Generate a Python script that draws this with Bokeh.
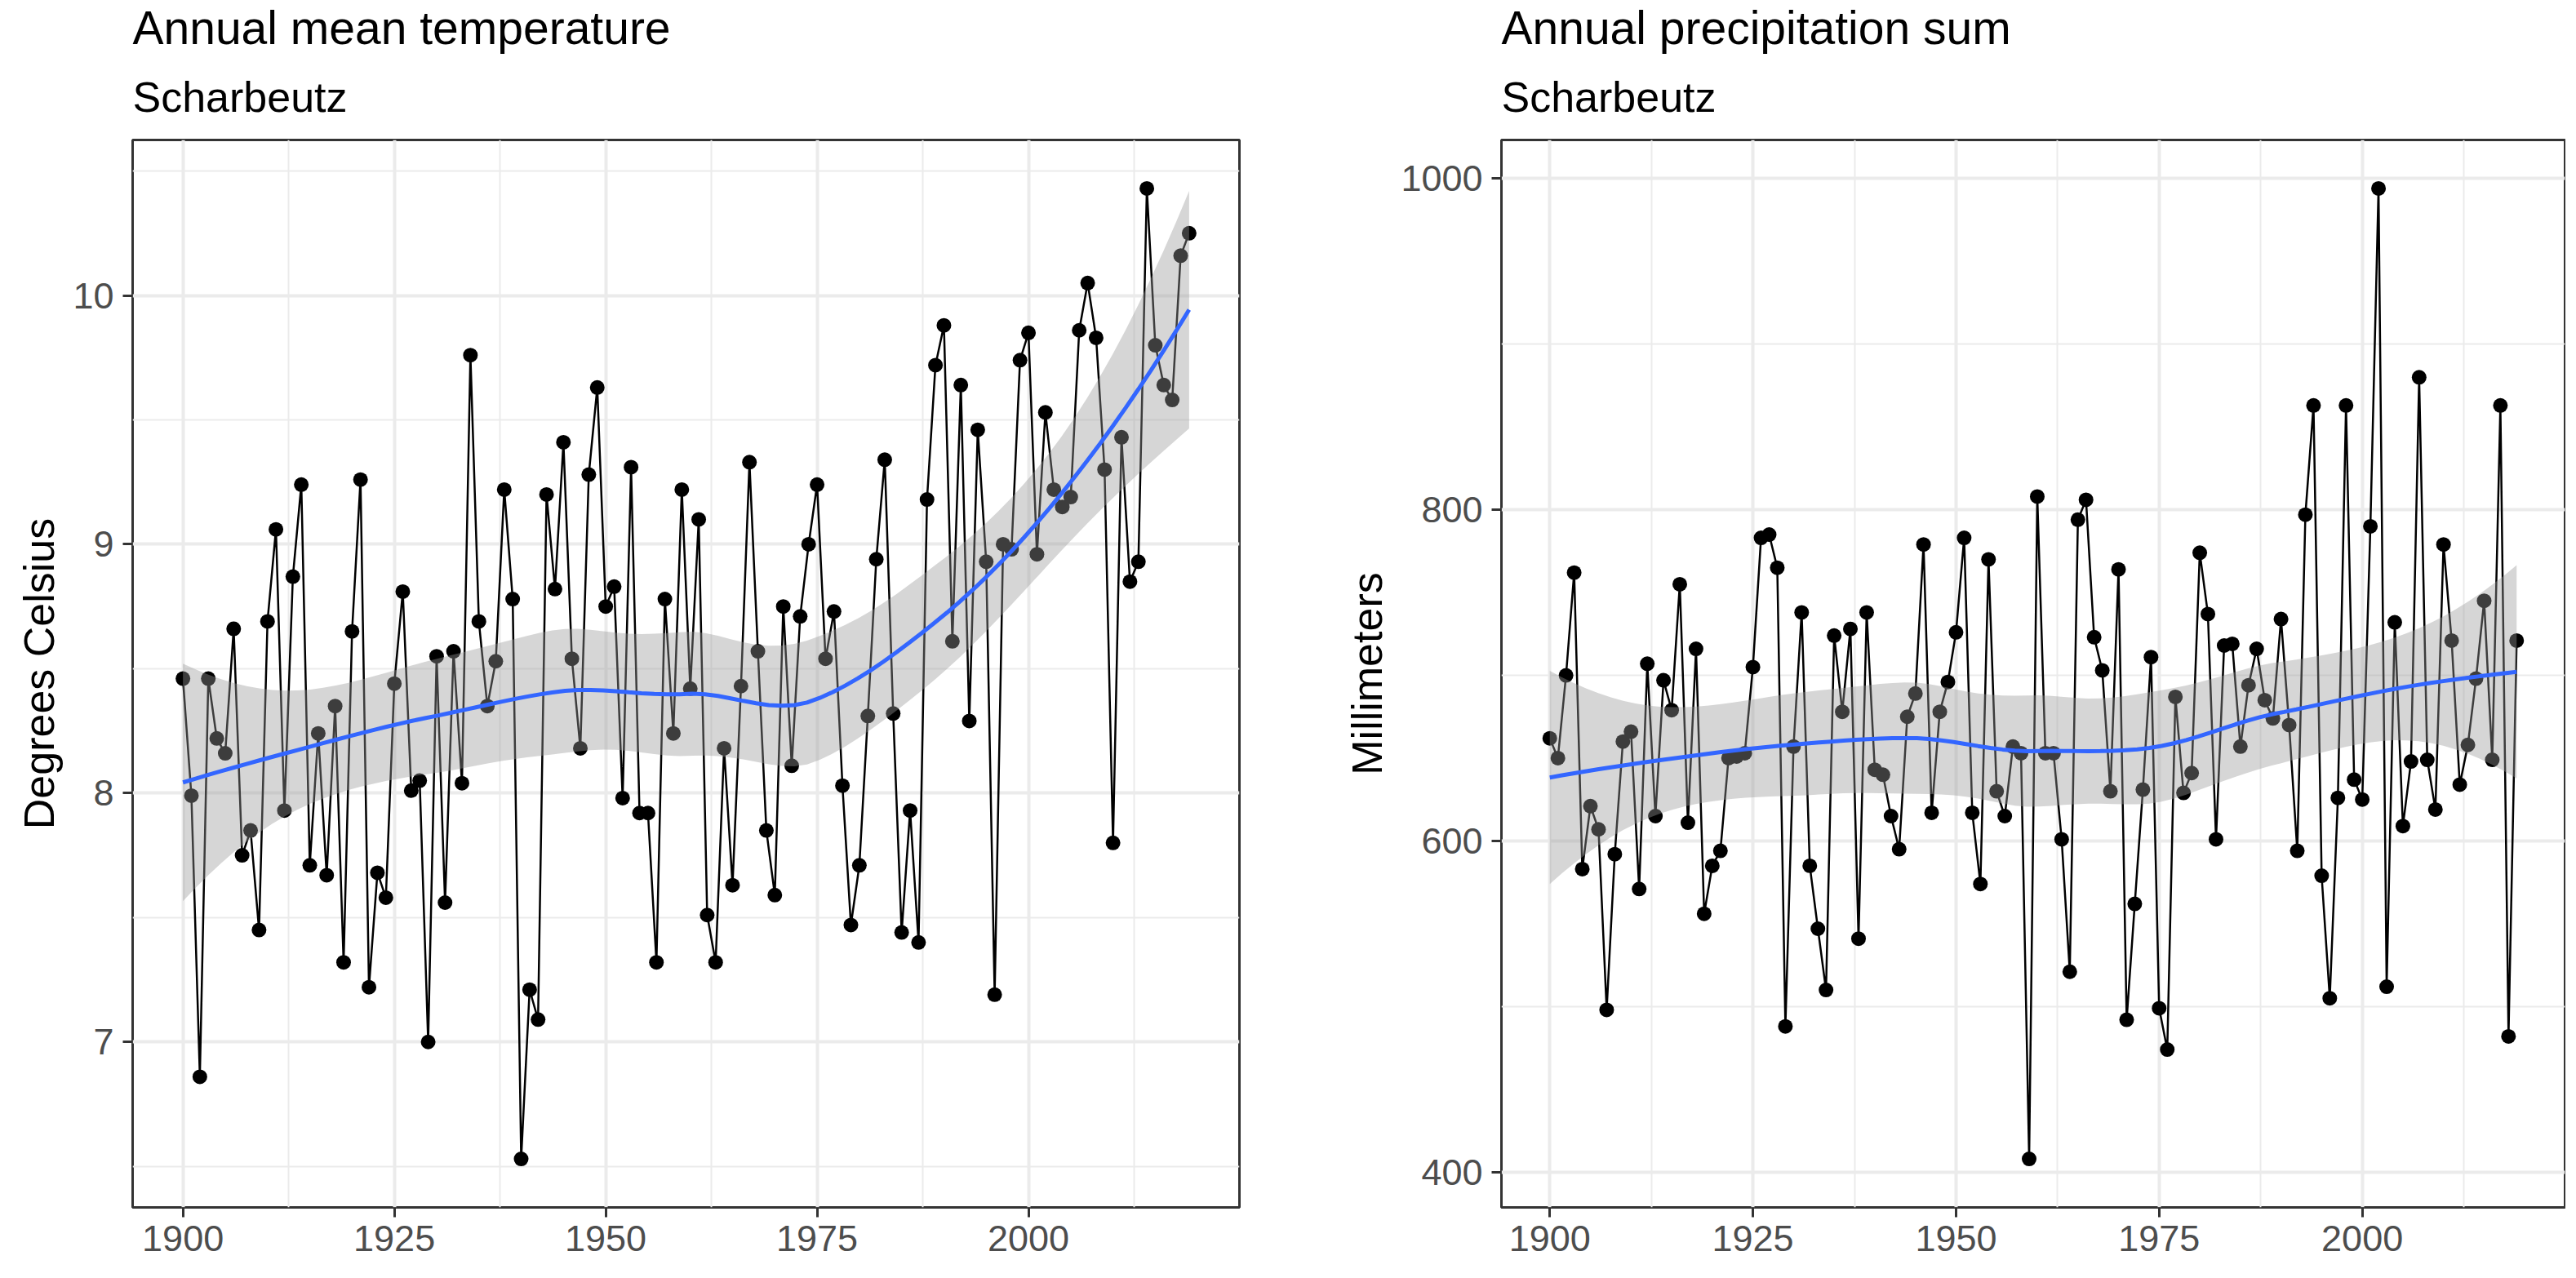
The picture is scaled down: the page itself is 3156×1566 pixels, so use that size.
import numpy as np
from bokeh.plotting import figure
from bokeh.layouts import row
from bokeh.models import Range1d, FixedTicker, Title
from bokeh.embed import file_html
from bokeh.resources import INLINE

# ---------------- data ----------------
years = list(range(1900, 2020))

temperature = [
    8.46, 7.99, 6.86, 8.46, 8.22, 8.16, 8.66, 7.75, 7.85, 7.45,
    8.69, 9.06, 7.93, 8.87, 9.24, 7.71, 8.24, 7.67, 8.35, 7.32,
    8.65, 9.26, 7.22, 7.68, 7.58, 8.44, 8.81, 8.01, 8.05, 7.00,
    8.55, 7.56, 8.57, 8.04, 9.76, 8.69, 8.35, 8.53, 9.22, 8.78,
    6.53, 7.21, 7.09, 9.20, 8.82, 9.41, 8.54, 8.18, 9.28, 9.63,
    8.75, 8.83, 7.98, 9.31, 7.92, 7.92, 7.32, 8.78, 8.24, 9.22,
    8.42, 9.10, 7.51, 7.32, 8.18, 7.63, 8.43, 9.33, 8.57, 7.85,
    7.59, 8.75, 8.11, 8.71, 9.00, 9.24, 8.54, 8.73, 8.03, 7.47,
    7.71, 8.31, 8.94, 9.34, 8.32, 7.44, 7.93, 7.40, 9.18, 9.72,
    9.88, 8.61, 9.64, 8.29, 9.46, 8.93, 7.19, 9.00, 8.98, 9.74,
    9.85, 8.96, 9.53, 9.22, 9.15, 9.19, 9.86, 10.05, 9.83, 9.30,
    7.80, 9.43, 8.85, 8.93, 10.43, 9.80, 9.64, 9.58, 10.16, 10.25,
]

precipitation = [
    662, 650, 700, 762, 583, 621, 607, 498, 592, 660,
    666, 571, 707, 615, 697, 679, 755, 611, 716, 556,
    585, 594, 650, 651, 653, 705, 783, 785, 765, 488,
    657, 738, 585, 547, 510, 724, 678, 728, 541, 738,
    643, 640, 615, 595, 675, 689, 779, 617, 678, 696,
    726, 783, 617, 574, 770, 630, 615, 657, 653, 408,
    808, 653, 653, 601, 521, 794, 806, 723, 703, 630,
    764, 492, 562, 631, 711, 499, 474, 687, 629, 641,
    774, 737, 601, 718, 719, 657, 694, 716, 685, 674,
    734, 670, 594, 797, 863, 579, 505, 626, 863, 637,
    625, 790, 994, 512, 732, 609, 648, 880, 649, 619,
    779, 721, 634, 658, 698, 745, 649, 863, 482, 721,
]

x_ticks = [1900, 1925, 1950, 1975, 2000]
x_minor = [1912.5, 1937.5, 1962.5, 1987.5, 2012.5]
t_ticks = [7, 8, 9, 10]
t_minor = [6.5, 7.5, 8.5, 9.5, 10.5]
p_ticks = [400, 600, 800, 1000]
p_minor = [500, 700, 900]

FONT = "Liberation Sans"


# ------- loess (span 0.75, degree 2, kd-tree vertices + cubic Hermite) -------
def loess_fit(x, y, xnew, span=0.75, cell=0.2):
    x = np.asarray(x, float)
    y = np.asarray(y, float)
    xnew = np.asarray(xnew, float)
    n = len(x)
    q = int(np.floor(n * span))
    fc = int(np.floor(n * span * cell))
    xs = np.sort(x)

    def local_ops(x0):
        d = np.abs(x - x0)
        h = np.sort(d)[q - 1]
        w = np.clip(1 - (d / h) ** 3, 0, None) ** 3
        u = (x - x0) / h
        X = np.vstack([np.ones(n), u, u ** 2]).T
        XtW = X.T * w
        op = np.linalg.solve(XtW @ X, XtW)
        return op[0], op[1] / h

    lo, hi = xs[0], xs[-1]
    mu = 0.005 * max(hi - lo, 1e-10)
    verts = [lo - mu, hi + mu]

    def split(l, u):
        if u - l + 1 <= fc:
            return
        m = (l + u) // 2
        verts.append((xs[m] + xs[m + 1]) / 2)
        split(l, m)
        split(m + 1, u)

    split(0, n - 1)
    verts = np.array(sorted(verts))
    ops = [local_ops(v) for v in verts]

    def interp_rows(pts):
        rows = []
        for p in pts:
            i = int(np.clip(np.searchsorted(verts, p) - 1, 0, len(verts) - 2))
            a, b = verts[i], verts[i + 1]
            wdt = b - a
            t = (p - a) / wdt
            h00 = 2 * t ** 3 - 3 * t ** 2 + 1
            h10 = t ** 3 - 2 * t ** 2 + t
            h01 = -2 * t ** 3 + 3 * t ** 2
            h11 = t ** 3 - t ** 2
            rows.append(h00 * ops[i][0] + h10 * wdt * ops[i][1]
                        + h01 * ops[i + 1][0] + h11 * wdt * ops[i + 1][1])
        return np.array(rows)

    L = interp_rows(x)
    Ln = interp_rows(xnew)
    res = y - L @ y
    IL = np.eye(n) - L
    M = IL.T @ IL
    one = np.trace(M)
    two = np.trace(M @ M)
    s = np.sqrt(np.sum(res ** 2) / one)
    df = one ** 2 / two
    z = 1.959963985
    tq = (z + (z ** 3 + z) / (4 * df)
          + (5 * z ** 5 + 16 * z ** 3 + 3 * z) / (96 * df ** 2)
          + (3 * z ** 7 + 19 * z ** 5 + 17 * z ** 3 - 15 * z) / (384 * df ** 3))
    fit = Ln @ y
    se = s * np.sqrt(np.sum(Ln ** 2, axis=1))
    return fit, fit - tq * se, fit + tq * se


def make_panel(title, subtitle, ylabel, yvals, yticks, yminor, width,
               border_left, border_right):
    xs = np.linspace(min(years), max(years), 80)
    fit, lo, hi = loess_fit(years, yvals, xs)

    xmin, xmax = min(years), max(years)
    xr = xmax - xmin
    ymin = min(min(yvals), lo.min())
    ymax = max(max(yvals), hi.max())
    yr = ymax - ymin

    p = figure(width=width, height=1558, output_backend="svg",
               toolbar_location=None, title=None,
               x_range=Range1d(xmin - 0.05 * xr, xmax + 0.05 * xr),
               y_range=Range1d(ymin - 0.05 * yr, ymax + 0.05 * yr),
               min_border_left=border_left, min_border_right=border_right,
               min_border_top=171, min_border_bottom=79)
    p.background_fill_color = "white"
    p.border_fill_color = "white"
    p.outline_line_color = "#333333"
    p.outline_line_width = 3

    p.add_layout(Title(text=subtitle, align="left", text_font=FONT,
                       text_font_size="52px", text_font_style="normal",
                       text_color="black", standoff=47, offset=0), "above")
    p.add_layout(Title(text=title, align="left", text_font=FONT,
                       text_font_size="57px", text_font_style="normal",
                       text_color="black", standoff=-2, offset=0), "above")

    p.xaxis.ticker = FixedTicker(ticks=x_ticks, minor_ticks=x_minor)
    p.yaxis.ticker = FixedTicker(ticks=yticks, minor_ticks=yminor)

    for ax in (p.xaxis, p.yaxis):
        ax.axis_line_color = None
        ax.major_tick_line_color = "#333333"
        ax.major_tick_line_width = 3
        ax.major_tick_out = 12
        ax.major_tick_in = 0
        ax.minor_tick_line_color = None
        ax.major_label_text_font = FONT
        ax.major_label_text_font_size = "45px"
        ax.major_label_text_color = "#4D4D4D"
    p.xaxis.major_label_standoff = 10
    p.yaxis.major_label_standoff = 11

    p.yaxis.axis_label = ylabel
    p.yaxis.axis_label_text_font = FONT
    p.yaxis.axis_label_text_font_size = "52px"
    p.yaxis.axis_label_text_font_style = "normal"
    p.yaxis.axis_label_text_color = "black"
    p.yaxis.axis_label_standoff = 9

    for g in (p.xgrid, p.ygrid):
        g.grid_line_color = "#EBEBEB"
        g.grid_line_width = 4
        g.minor_grid_line_color = "#EBEBEB"
        g.minor_grid_line_width = 2

    p.line(years, yvals, line_color="black", line_width=2.5)
    p.scatter(years, yvals, size=18, fill_color="black", line_color=None)
    p.varea(x=xs, y1=lo, y2=hi, fill_color="#999999", fill_alpha=0.4)
    p.line(xs, fit, line_color="#3366FF", line_width=5)
    return p


p1 = make_panel("Annual mean temperature", "Scharbeutz", "Degrees Celsius",
                temperature, t_ticks, t_minor, 1640, 162, 122)
p2 = make_panel("Annual precipitation sum", "Scharbeutz", "Millimeters",
                precipitation, p_ticks, p_minor, 1503, 199, 1)

layout = row(p1, p2)
open("out.html", "w").write(file_html(layout, INLINE))
